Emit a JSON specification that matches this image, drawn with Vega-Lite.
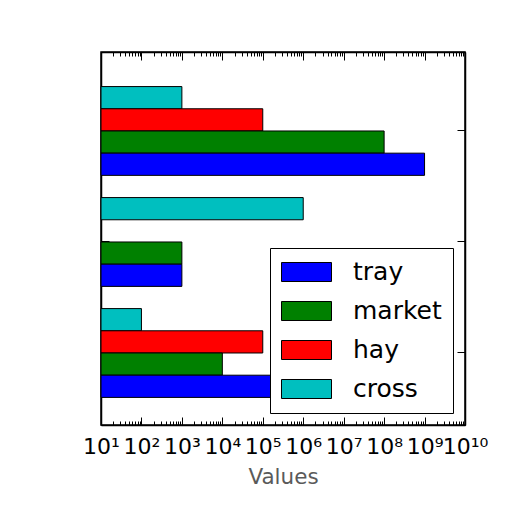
{
  "$schema": "https://vega.github.io/schema/vega-lite/v6.json",
  "width": 364,
  "height": 373,
  "autosize": "none",
  "padding": {"left": 101, "top": 52, "right": 47, "bottom": 87},
  "background": "white",
  "data": {
    "values": [
      {"group": "A", "series": "cross", "value": 1000},
      {"group": "A", "series": "hay", "value": 100000},
      {"group": "A", "series": "market", "value": 100000000},
      {"group": "A", "series": "tray", "value": 1000000000},
      {"group": "B", "series": "cross", "value": 1000000},
      {"group": "B", "series": "market", "value": 1000},
      {"group": "B", "series": "tray", "value": 1000},
      {"group": "C", "series": "cross", "value": 100},
      {"group": "C", "series": "hay", "value": 100000},
      {"group": "C", "series": "market", "value": 10000},
      {"group": "C", "series": "tray", "value": 1000000}
    ]
  },
  "encoding": {
    "y": {
      "field": "group",
      "type": "nominal",
      "scale": {"paddingInner": 0.2, "paddingOuter": 0.28, "align": 0.556}
    },
    "yOffset": {
      "field": "series",
      "type": "nominal",
      "scale": {"domain": ["cross", "hay", "market", "tray"], "paddingInner": 0, "paddingOuter": 0}
    },
    "x": {
      "field": "value",
      "type": "quantitative",
      "stack": null,
      "scale": {"type": "log", "domain": [10, 10000000000], "nice": false}
    }
  },
  "layer": [
    {
      "mark": {"type": "bar", "stroke": "black", "strokeWidth": 1, "opacity": 1},
      "encoding": {
        "color": {
          "field": "series",
          "type": "nominal",
          "scale": {
            "domain": ["tray", "market", "hay", "cross"],
            "range": ["#0000ff", "#008000", "#ff0000", "#00bfbf"]
          },
          "legend": {"title": null}
        },
        "x": {
          "field": "value",
          "type": "quantitative",
          "stack": null,
          "axis": {
            "orient": "bottom",
            "title": "Values",
            "values": [10,20,30,40,50,60,70,80,90,100,200,300,400,500,600,700,800,900,1000,2000,3000,4000,5000,6000,7000,8000,9000,10000,20000,30000,40000,50000,60000,70000,80000,90000,100000,200000,300000,400000,500000,600000,700000,800000,900000,1000000,2000000,3000000,4000000,5000000,6000000,7000000,8000000,9000000,10000000,20000000,30000000,40000000,50000000,60000000,70000000,80000000,90000000,100000000,200000000,300000000,400000000,500000000,600000000,700000000,800000000,900000000,1000000000,2000000000,3000000000,4000000000,5000000000,6000000000,7000000000,8000000000,9000000000,10000000000],
            "labelExpr": "abs(log(datum.value)/LN10 - round(log(datum.value)/LN10)) < 0.001 ? '10' + ['','¹','²','³','⁴','⁵','⁶','⁷','⁸','⁹','¹⁰'][round(log(datum.value)/LN10)] : ''",
            "tickSize": {"condition": {"test": "abs(log(datum.value)/LN10 - round(log(datum.value)/LN10)) < 0.001", "value": -8}, "value": -4},
            "labelOverlap": false,
            "labelFlush": false,
            "labelBound": false,
            "labelPadding": 19,
            "titlePadding": 5
          }
        },
        "x2": {"value": 0},
        "y": {
          "field": "group",
          "type": "nominal",
          "axis": {"orient": "left", "labels": false, "title": null, "tickSize": -8}
        }
      }
    },
    {
      "mark": {"type": "bar", "opacity": 0},
      "encoding": {
        "x": {
          "field": "value",
          "type": "quantitative",
          "stack": null,
          "axis": {
            "orient": "top",
            "title": null,
            "labels": false,
            "values": [10,20,30,40,50,60,70,80,90,100,200,300,400,500,600,700,800,900,1000,2000,3000,4000,5000,6000,7000,8000,9000,10000,20000,30000,40000,50000,60000,70000,80000,90000,100000,200000,300000,400000,500000,600000,700000,800000,900000,1000000,2000000,3000000,4000000,5000000,6000000,7000000,8000000,9000000,10000000,20000000,30000000,40000000,50000000,60000000,70000000,80000000,90000000,100000000,200000000,300000000,400000000,500000000,600000000,700000000,800000000,900000000,1000000000,2000000000,3000000000,4000000000,5000000000,6000000000,7000000000,8000000000,9000000000,10000000000],
            "tickSize": {"condition": {"test": "abs(log(datum.value)/LN10 - round(log(datum.value)/LN10)) < 0.001", "value": -8}, "value": -4}
          }
        },
        "x2": {"value": 0},
        "y": {
          "field": "group",
          "type": "nominal",
          "axis": {"orient": "right", "labels": false, "title": null, "tickSize": -8}
        }
      }
    }
  ],
  "resolve": {"axis": {"x": "independent", "y": "independent"}},
  "config": {
    "font": "DejaVu Sans",
    "view": {"stroke": "black", "strokeWidth": 1.5},
    "axis": {
      "domainColor": "black",
      "domainWidth": 1.5,
      "tickColor": "black",
      "grid": false,
      "labelColor": "black",
      "labelFont": "DejaVu Sans",
      "labelFontSize": 22,
      "titleFont": "DejaVu Sans",
      "titleFontSize": 21.5,
      "titleFontWeight": "normal",
      "titleColor": "#5a5a5a"
    },
    "legend": {
      "orient": "bottom-right",
      "offset": 12,
      "strokeColor": "black",
      "fillColor": "white",
      "padding": 11,
      "labelFont": "DejaVu Sans",
      "labelFontSize": 25,
      "labelColor": "black",
      "symbolType": "M-1,-0.76L3,-0.76L3,0.76L-1,0.76Z",
      "symbolSize": 625,
      "symbolStrokeColor": "black",
      "symbolStrokeWidth": 1,
      "symbolOpacity": 1,
      "labelOffset": 46,
      "rowPadding": 13
    }
  }
}
